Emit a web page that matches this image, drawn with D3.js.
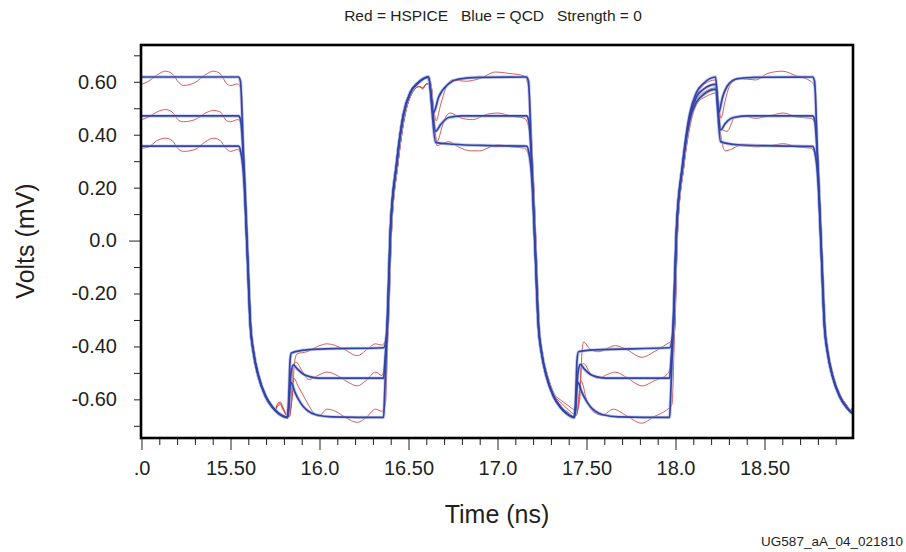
<!DOCTYPE html>
<html>
<head>
<meta charset="utf-8">
<script src="https://cdn.jsdelivr.net/npm/d3@7"></script>
<style>
  body { margin: 0; background: #fff; }
  text { font-family: "Liberation Sans", Arial, sans-serif; fill: #231f20; }
</style>
</head>
<body>
<div id="chart"></div>
<script>
"use strict"

// tick values + labels
const xMajor = [15.0, 15.5, 16.0, 16.5, 17.0, 17.5, 18.0, 18.5]
const xLabels = [".0", "15.50", "16.0", "16.50", "17.0", "17.50", "18.0", "18.50"]
const xMinor = [15.1,15.2,15.3,15.4,15.6,15.7,15.8,15.9,16.1,16.2,16.3,16.4,16.6,16.7,16.8,16.9,
  17.1,17.2,17.3,17.4,17.6,17.7,17.8,17.9,18.1,18.2,18.3,18.4,18.6,18.7,18.8,18.9]
const yMajor = [0.6, 0.4, 0.2, 0.0, -0.2, -0.4, -0.6]
const yLabels = ["0.60", "0.40", "0.20", "0.0", "-0.20", "-0.40", "-0.60"]
const yMinor = [0.7, 0.5, 0.3, 0.1, -0.1, -0.3, -0.5, -0.7]

// QCD waveforms (blue), [time ns, volts]
const blueA = [
  [15.0,0.618],[15.545,0.618],[15.556,0.602],[15.573,0.307],[15.596,-0.067],[15.612,-0.322],[15.629,-0.421],[15.657,-0.512],[15.697,-0.588],[15.736,-0.630],[15.77,-0.653],[15.82,-0.668],
  [15.826,-0.64],[15.835,-0.535],[15.845,-0.54],[15.86,-0.57],[15.882,-0.6],[15.91,-0.628],[15.938,-0.645],[15.98,-0.658],[16.07,-0.666],[16.36,-0.668],
  [16.365,-0.6],[16.38,-0.333],[16.399,0.043],[16.433,0.288],[16.472,0.477],[16.511,0.56],[16.551,0.594],[16.612,0.618],
  [16.64,0.483],[16.67,0.543],[16.725,0.592],[16.78,0.61],[16.9,0.617],[17.163,0.618],
  [17.174,0.602],[17.191,0.307],[17.214,-0.067],[17.230,-0.322],[17.247,-0.421],[17.275,-0.512],[17.315,-0.588],[17.354,-0.630],[17.388,-0.653],[17.43,-0.668],
  [17.438,-0.64],[17.447,-0.535],[17.457,-0.54],[17.472,-0.57],[17.494,-0.6],[17.522,-0.628],[17.55,-0.645],[17.592,-0.658],[17.68,-0.666],[17.967,-0.668],
  [17.972,-0.6],[17.987,-0.333],[18.006,0.043],[18.04,0.288],[18.079,0.477],[18.118,0.56],[18.158,0.594],[18.225,0.618],
  [18.242,0.483],[18.265,0.543],[18.30,0.592],[18.35,0.612],[18.45,0.617],[18.77,0.618],
  [18.781,0.602],[18.798,0.307],[18.821,-0.067],[18.837,-0.322],[18.854,-0.421],[18.882,-0.512],[18.922,-0.588],[18.961,-0.630],[18.995,-0.653],[19.0,-0.655]
]
const blueB = [
  [15.0,0.471],[15.545,0.471],[15.557,0.453],[15.575,0.284],[15.596,-0.067],[15.612,-0.322],[15.629,-0.421],[15.657,-0.512],[15.697,-0.588],[15.736,-0.630],[15.77,-0.653],[15.82,-0.668],
  [15.826,-0.64],[15.84,-0.50],[15.854,-0.47],[15.875,-0.485],[15.91,-0.505],[15.95,-0.515],[16.0,-0.52],[16.36,-0.52],
  [16.368,-0.45],[16.38,-0.333],[16.399,0.043],[16.433,0.288],[16.472,0.477],[16.511,0.56],[16.551,0.594],[16.612,0.618],
  [16.652,0.413],[16.68,0.438],[16.725,0.465],[16.8,0.471],[17.163,0.471],
  [17.175,0.453],[17.193,0.284],[17.214,-0.067],[17.230,-0.322],[17.247,-0.421],[17.275,-0.512],[17.315,-0.588],[17.354,-0.630],[17.388,-0.653],[17.43,-0.668],
  [17.438,-0.64],[17.452,-0.50],[17.466,-0.468],[17.487,-0.485],[17.52,-0.505],[17.56,-0.515],[17.61,-0.52],[17.967,-0.52],
  [17.975,-0.45],[17.987,-0.333],[18.006,0.043],[18.04,0.284],[18.079,0.463],[18.118,0.543],[18.158,0.572],[18.225,0.59],
  [18.253,0.418],[18.28,0.443],[18.326,0.465],[18.4,0.471],[18.77,0.471],
  [18.782,0.453],[18.80,0.284],[18.821,-0.067],[18.837,-0.322],[18.854,-0.421],[18.882,-0.512],[18.922,-0.588],[18.961,-0.630],[18.995,-0.653],[19.0,-0.655]
]
const blueC = [
  [15.0,0.357],[15.545,0.357],[15.558,0.334],[15.577,0.215],[15.596,-0.067],[15.612,-0.322],[15.629,-0.421],[15.657,-0.512],[15.697,-0.588],[15.736,-0.630],[15.77,-0.653],[15.82,-0.668],
  [15.826,-0.62],[15.835,-0.45],[15.842,-0.425],[15.9,-0.415],[16.0,-0.41],[16.36,-0.405],
  [16.38,-0.333],[16.399,0.043],[16.433,0.288],[16.472,0.477],[16.511,0.56],[16.551,0.594],[16.612,0.618],
  [16.652,0.371],[16.75,0.364],[16.95,0.359],[17.163,0.357],
  [17.176,0.334],[17.195,0.215],[17.214,-0.067],[17.230,-0.322],[17.247,-0.421],[17.275,-0.512],[17.315,-0.588],[17.354,-0.630],[17.388,-0.653],[17.43,-0.668],
  [17.438,-0.62],[17.447,-0.45],[17.455,-0.42],[17.55,-0.413],[17.967,-0.405],
  [17.987,-0.333],[18.006,0.043],[18.04,0.279],[18.079,0.453],[18.118,0.523],[18.158,0.552],[18.225,0.571],
  [18.253,0.374],[18.35,0.362],[18.55,0.358],[18.77,0.356],
  [18.783,0.334],[18.802,0.215],[18.821,-0.067],[18.837,-0.322],[18.854,-0.421],[18.882,-0.512],[18.922,-0.588],[18.961,-0.630],[18.995,-0.653],[19.0,-0.655]
]

// HSPICE waveforms (red)
const redA = [
  [15.0,0.59],[15.04,0.602],[15.09,0.627],[15.135,0.64],[15.17,0.632],[15.21,0.597],[15.236,0.586],[15.3,0.597],[15.36,0.627],[15.404,0.64],[15.44,0.632],[15.48,0.592],[15.50,0.586],[15.54,0.592],
  [15.56,0.572],[15.578,0.294],[15.60,-0.08],[15.615,-0.33],[15.632,-0.43],[15.66,-0.515],[15.70,-0.59],[15.74,-0.63],[15.75,-0.64],[15.765,-0.615],[15.78,-0.61],[15.795,-0.63],[15.815,-0.66],[15.83,-0.665],
  [15.845,-0.60],[15.856,-0.52],[15.88,-0.55],[15.921,-0.60],[15.96,-0.645],[15.994,-0.664],[16.043,-0.637],[16.09,-0.645],[16.15,-0.67],[16.212,-0.687],[16.26,-0.67],[16.315,-0.637],[16.35,-0.645],[16.37,-0.62],
  [16.385,-0.34],[16.405,0.036],[16.44,0.284],[16.48,0.472],[16.52,0.557],[16.56,0.582],[16.58,0.572],[16.60,0.592],[16.625,0.592],[16.64,0.512],[16.655,0.452],[16.68,0.512],[16.72,0.592],[16.75,0.607],[16.82,0.602],[16.9,0.612],[16.99,0.637],[17.06,0.632],[17.15,0.622],[17.17,0.592],
  [17.18,0.552],[17.198,0.294],[17.22,-0.08],[17.235,-0.33],[17.252,-0.43],[17.28,-0.515],[17.32,-0.59],[17.36,-0.63],[17.40,-0.65],[17.43,-0.665],[17.445,-0.66],
  [17.455,-0.60],[17.47,-0.53],[17.50,-0.60],[17.535,-0.645],[17.59,-0.66],[17.65,-0.637],[17.72,-0.66],[17.81,-0.69],[17.88,-0.665],[17.95,-0.64],[17.98,-0.62],
  [17.995,-0.34],[18.012,0.036],[18.047,0.284],[18.085,0.472],[18.125,0.557],[18.165,0.592],[18.225,0.607],[18.24,0.542],[18.255,0.462],[18.28,0.532],[18.31,0.592],[18.36,0.612],[18.45,0.607],[18.52,0.632],[18.6,0.64],[18.68,0.622],[18.76,0.602],[18.785,0.572],
  [18.80,0.294],[18.825,-0.08],[18.842,-0.33],[18.86,-0.43],[18.888,-0.515],[18.93,-0.59],[18.965,-0.625],[18.98,-0.64],[19.0,-0.625]
]
const redB = [
  [15.0,0.457],[15.04,0.467],[15.09,0.487],[15.135,0.495],[15.17,0.487],[15.21,0.454],[15.236,0.449],[15.3,0.457],[15.36,0.482],[15.404,0.492],[15.44,0.487],[15.48,0.452],[15.50,0.449],[15.54,0.457],
  [15.56,0.442],[15.578,0.284],[15.60,-0.08],[15.615,-0.33],[15.632,-0.43],[15.66,-0.515],[15.70,-0.59],[15.74,-0.63],[15.75,-0.64],[15.765,-0.62],[15.78,-0.615],[15.795,-0.635],[15.815,-0.66],[15.83,-0.665],
  [15.84,-0.60],[15.852,-0.47],[15.87,-0.46],[15.9,-0.49],[15.94,-0.525],[15.99,-0.51],[16.043,-0.497],[16.1,-0.51],[16.16,-0.535],[16.212,-0.549],[16.26,-0.53],[16.315,-0.497],[16.35,-0.51],[16.37,-0.45],
  [16.385,-0.34],[16.405,0.036],[16.44,0.284],[16.48,0.472],[16.52,0.557],[16.56,0.582],[16.58,0.577],[16.60,0.592],[16.625,0.592],[16.64,0.492],[16.66,0.374],[16.69,0.433],[16.71,0.468],[16.735,0.482],[16.79,0.464],[16.86,0.457],[16.94,0.477],[17.0,0.482],[17.08,0.47],[17.15,0.462],[17.17,0.442],
  [17.198,0.284],[17.22,-0.08],[17.235,-0.33],[17.252,-0.43],[17.28,-0.51],[17.32,-0.585],[17.36,-0.615],[17.40,-0.64],[17.43,-0.655],[17.445,-0.655],
  [17.46,-0.58],[17.472,-0.47],[17.485,-0.465],[17.52,-0.5],[17.567,-0.52],[17.62,-0.505],[17.663,-0.497],[17.72,-0.515],[17.813,-0.549],[17.88,-0.53],[17.953,-0.505],[17.975,-0.47],
  [17.995,-0.34],[18.012,0.036],[18.047,0.279],[18.085,0.452],[18.125,0.537],[18.165,0.562],[18.225,0.577],[18.24,0.512],[18.255,0.423],[18.29,0.413],[18.33,0.462],[18.38,0.472],[18.45,0.462],[18.53,0.472],[18.607,0.482],[18.68,0.467],[18.76,0.462],[18.785,0.442],
  [18.80,0.284],[18.825,-0.08],[18.842,-0.33],[18.86,-0.43],[18.888,-0.515],[18.93,-0.59],[18.965,-0.625],[18.98,-0.64],[19.0,-0.63]
]
const redC = [
  [15.0,0.349],[15.04,0.354],[15.09,0.379],[15.135,0.387],[15.17,0.379],[15.21,0.344],[15.236,0.337],[15.3,0.344],[15.36,0.374],[15.404,0.387],[15.44,0.379],[15.48,0.344],[15.50,0.337],[15.54,0.344],
  [15.56,0.324],[15.58,0.235],[15.60,-0.08],[15.615,-0.33],[15.632,-0.43],[15.66,-0.515],[15.70,-0.59],[15.74,-0.63],[15.75,-0.64],[15.765,-0.625],[15.78,-0.62],[15.795,-0.64],[15.815,-0.66],[15.83,-0.665],
  [15.845,-0.6],[15.862,-0.45],[15.875,-0.428],[15.93,-0.42],[15.99,-0.40],[16.043,-0.39],[16.135,-0.41],[16.212,-0.435],[16.27,-0.41],[16.315,-0.39],[16.35,-0.395],[16.37,-0.38],
  [16.385,-0.34],[16.405,0.036],[16.44,0.284],[16.48,0.472],[16.52,0.557],[16.56,0.582],[16.58,0.577],[16.60,0.592],[16.625,0.592],[16.64,0.472],[16.655,0.374],[16.66,0.359],[16.70,0.369],[16.725,0.374],[16.78,0.354],[16.85,0.339],[16.9,0.339],[16.96,0.354],[17.0,0.362],[17.08,0.354],[17.15,0.349],[17.175,0.324],
  [17.20,0.235],[17.22,-0.08],[17.235,-0.33],[17.252,-0.43],[17.28,-0.505],[17.32,-0.58],[17.36,-0.605],[17.40,-0.625],[17.43,-0.64],[17.445,-0.645],
  [17.462,-0.6],[17.475,-0.42],[17.483,-0.383],[17.52,-0.41],[17.567,-0.42],[17.663,-0.397],[17.72,-0.41],[17.813,-0.441],[17.88,-0.42],[17.953,-0.39],[17.975,-0.38],
  [17.995,-0.34],[18.012,0.036],[18.047,0.279],[18.085,0.443],[18.125,0.522],[18.165,0.542],[18.225,0.557],[18.24,0.492],[18.255,0.394],[18.28,0.339],[18.31,0.344],[18.36,0.359],[18.45,0.354],[18.53,0.359],[18.607,0.366],[18.68,0.354],[18.76,0.349],[18.785,0.324],
  [18.80,0.235],[18.825,-0.08],[18.842,-0.33],[18.86,-0.43],[18.888,-0.515],[18.93,-0.59],[18.965,-0.625],[18.98,-0.64],[19.0,-0.635]
]

const W = 906, H = 552
const plot = {left: 141, right: 853, top: 45, bottom: 438}

const svg = d3.select("#chart")
  .append("svg")
    .attr("width", W)
    .attr("height", H)

const x = d3.scaleLinear().domain([15, 19]).range([141.5, 853.5])
const y = d3.scaleLinear().domain([-0.746, 0.739]).range([plot.bottom, plot.top])

svg.append("clipPath").attr("id", "clip")
  .append("rect")
    .attr("x", plot.left).attr("y", plot.top)
    .attr("width", plot.right - plot.left).attr("height", plot.bottom - plot.top)

const line = d3.line()
  .x(d => x(d[0]))
  .y(d => y(d[1]))
  .curve(d3.curveMonotoneX)

const g = svg.append("g").attr("clip-path", "url(#clip)")

// red first, blue on top
;[redA, redB, redC].forEach(s => {
  g.append("path").datum(s)
    .attr("d", line)
    .attr("fill", "none")
    .attr("stroke", "#d0413f")
    .attr("stroke-width", 1)
    .attr("stroke-opacity", 0.85)
})
;[blueA, blueB, blueC].forEach(s => {
  g.append("path").datum(s)
    .attr("d", line)
    .attr("fill", "none")
    .attr("stroke", "#9aa8da")
    .attr("stroke-width", 3.4)
    .attr("stroke-opacity", 0.55)
})
;[blueA, blueB, blueC].forEach(s => {
  g.append("path").datum(s)
    .attr("d", line)
    .attr("fill", "none")
    .attr("stroke", "#3244a6")
    .attr("stroke-width", 1.7)
})

// y axis
const yAxis = svg.append("g")
  .attr("transform", "translate(" + plot.left + ",0)")
  .style("font-size", "20px")
  .call(d3.axisLeft(y).tickValues(yMajor).tickSize(7).tickPadding(17)
    .tickFormat((d, i) => yLabels[i]))
yAxis.select(".domain").remove()
yAxis.selectAll(".tick").filter(d => d === 0).select("line").attr("x2", -12)

const yMin = svg.append("g")
  .attr("transform", "translate(" + plot.left + ",0)")
  .call(d3.axisLeft(y).tickValues(yMinor).tickSize(7).tickFormat(""))
yMin.select(".domain").remove()

// x axis
const xAxis = svg.append("g")
  .attr("transform", "translate(0," + plot.bottom + ")")
  .style("font-size", "20px")
  .call(d3.axisBottom(x).tickValues(xMajor).tickSize(12).tickPadding(11)
    .tickFormat((d, i) => xLabels[i]))
xAxis.select(".domain").remove()

const xMin = svg.append("g")
  .attr("transform", "translate(0," + plot.bottom + ")")
  .call(d3.axisBottom(x).tickValues(xMinor).tickSize(7).tickFormat(""))
xMin.select(".domain").remove()

svg.selectAll(".tick line").attr("stroke", "#231f20").attr("stroke-width", 1)
svg.selectAll(".tick text").attr("fill", "#2a2627").style("font-family", "'Liberation Sans', Arial, sans-serif")

// frame
svg.append("rect")
  .attr("x", plot.left).attr("y", plot.top)
  .attr("width", plot.right - plot.left).attr("height", plot.bottom - plot.top)
  .attr("fill", "none")
  .attr("stroke", "#000")
  .attr("stroke-width", 2.6)

// titles
svg.append("text")
  .attr("x", 493).attr("y", 21)
  .attr("text-anchor", "middle")
  .style("font-size", "15.5px")
  .style("white-space", "pre")
  .text("Red = HSPICE   Blue = QCD   Strength = 0")

svg.append("text")
  .attr("x", 497).attr("y", 523)
  .attr("text-anchor", "middle")
  .style("font-size", "25px")
  .text("Time (ns)")

svg.append("text")
  .attr("transform", "translate(34,241) rotate(-90)")
  .attr("text-anchor", "middle")
  .style("font-size", "25px")
  .text("Volts (mV)")

svg.append("text")
  .attr("x", 903).attr("y", 546)
  .attr("text-anchor", "end")
  .style("font-size", "13.5px")
  .text("UG587_aA_04_021810")
</script>
</body>
</html>
